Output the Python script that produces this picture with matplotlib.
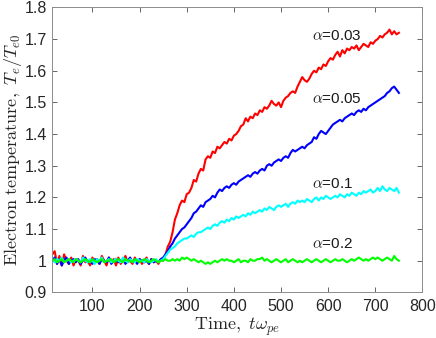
import numpy as np
import matplotlib
matplotlib.use("Agg")
import matplotlib.pyplot as plt

plt.rcParams['mathtext.fontset'] = 'cm'
plt.rcParams['font.family'] = ['Liberation Sans', 'DejaVu Sans']

# time samples, every 5 units from 15 to 750
t = np.arange(15, 755, 5)

red = [1.02, 1.03, 0.99, 1.015, 0.985, 1.02, 1.0, 0.99, 1.01, 0.985,
       1.005, 1.0, 0.985, 1.015, 0.995, 1.0, 0.985, 1.01, 0.995, 1.005,
       0.99, 1.015, 1.0, 0.985, 1.01, 0.995, 1.005, 0.985, 1.01, 0.99,
       1.0, 1.015, 0.995, 1.0, 0.99, 1.01, 0.995, 1.005, 0.99, 1.0,
       1.01, 0.99, 1.005, 0.995, 1.0, 0.99, 1.005, 1.0,
       1.02, 1.045, 1.06, 1.09, 1.13, 1.15, 1.175, 1.19, 1.185, 1.21,
       1.215, 1.23, 1.255, 1.25, 1.275, 1.29, 1.285, 1.32, 1.33, 1.325,
       1.345, 1.34, 1.36, 1.355, 1.365, 1.375, 1.37, 1.385, 1.38, 1.395,
       1.40, 1.41, 1.425, 1.43, 1.45, 1.44, 1.455, 1.45, 1.465, 1.46,
       1.475, 1.47, 1.485, 1.48, 1.49, 1.505, 1.495, 1.49, 1.50, 1.485,
       1.505, 1.515, 1.52, 1.53, 1.535, 1.53, 1.55, 1.565, 1.58, 1.57,
       1.565, 1.575, 1.59, 1.60, 1.595, 1.61, 1.605, 1.62, 1.615, 1.63,
       1.64, 1.635, 1.65, 1.66, 1.645, 1.665, 1.655, 1.67, 1.665, 1.675,
       1.67, 1.68, 1.665, 1.675, 1.685, 1.68, 1.675, 1.69, 1.685, 1.695,
       1.70, 1.71, 1.705, 1.715, 1.72, 1.73, 1.715, 1.725, 1.715, 1.72]

blue = [1.0, 1.01, 0.99, 1.005, 0.985, 1.0, 1.01, 0.99, 1.0, 1.005,
        0.995, 1.005, 0.99, 1.0, 1.01, 0.995, 1.0, 0.99, 1.005, 1.0,
        0.99, 1.005, 1.0, 0.995, 1.01, 0.99, 1.0, 1.005, 0.995, 1.0,
        1.005, 0.99, 1.0, 1.01, 0.995, 1.0, 0.99, 1.005, 1.0, 0.995,
        1.0, 0.99, 1.005, 0.995, 1.0, 0.995, 1.005, 1.01,
        1.02, 1.03, 1.045, 1.055, 1.07, 1.08, 1.09, 1.10, 1.105, 1.115,
        1.125, 1.135, 1.15, 1.155, 1.165, 1.175, 1.17, 1.185, 1.19, 1.195,
        1.205, 1.20, 1.215, 1.225, 1.22, 1.23, 1.235, 1.23, 1.24, 1.245,
        1.24, 1.25, 1.255, 1.26, 1.265, 1.27, 1.265, 1.275, 1.28, 1.275,
        1.285, 1.29, 1.285, 1.30, 1.305, 1.30, 1.31, 1.315, 1.32, 1.315,
        1.325, 1.33, 1.325, 1.34, 1.35, 1.345, 1.35, 1.355, 1.36, 1.355,
        1.365, 1.37, 1.375, 1.39, 1.385, 1.40, 1.41, 1.405, 1.40, 1.41,
        1.42, 1.43, 1.435, 1.44, 1.445, 1.44, 1.45, 1.455, 1.46, 1.465,
        1.46, 1.47, 1.475, 1.47, 1.48, 1.475, 1.485, 1.49, 1.495, 1.50,
        1.505, 1.51, 1.515, 1.52, 1.53, 1.535, 1.545, 1.55, 1.54, 1.53]

cyan = [1.0, 0.995, 1.005, 1.0, 1.01, 0.995, 1.0, 1.005, 0.995, 1.0,
        1.005, 1.0, 0.995, 1.01, 1.0, 0.995, 1.005, 1.0, 0.99, 1.005,
        1.0, 1.01, 0.995, 1.0, 1.005, 0.995, 1.0, 1.005, 1.0, 0.995,
        1.01, 1.0, 0.995, 1.005, 1.0, 0.995, 1.005, 1.0, 1.0, 0.995,
        1.005, 1.0, 0.995, 1.0, 1.005, 0.995, 1.0, 1.005,
        1.015, 1.025, 1.035, 1.04, 1.045, 1.055, 1.06, 1.065, 1.07, 1.07,
        1.075, 1.08, 1.075, 1.085, 1.09, 1.09, 1.095, 1.10, 1.105, 1.10,
        1.11, 1.115, 1.11, 1.12, 1.125, 1.12, 1.13, 1.125, 1.135, 1.13,
        1.14, 1.135, 1.14, 1.145, 1.14, 1.15, 1.145, 1.155, 1.15, 1.155,
        1.16, 1.155, 1.165, 1.16, 1.17, 1.165, 1.16, 1.17, 1.175, 1.17,
        1.175, 1.18, 1.17, 1.18, 1.185, 1.18, 1.19, 1.185, 1.19, 1.185,
        1.195, 1.19, 1.185, 1.195, 1.20, 1.19, 1.20, 1.195, 1.205, 1.20,
        1.195, 1.20, 1.205, 1.20, 1.21, 1.205, 1.20, 1.21, 1.205, 1.215,
        1.21, 1.205, 1.215, 1.21, 1.22, 1.215, 1.22, 1.225, 1.215, 1.22,
        1.23, 1.22, 1.235, 1.225, 1.22, 1.23, 1.225, 1.22, 1.23, 1.215]

green = [1.0, 1.005, 0.995, 1.0, 1.005, 0.995, 1.0, 1.005, 1.0, 0.995,
         1.005, 1.0, 0.995, 1.0, 1.005, 1.0, 0.995, 1.005, 1.0, 0.995,
         1.0, 1.005, 0.995, 1.0, 1.0, 1.005, 0.995, 1.0, 1.005, 1.0,
         0.995, 1.005, 1.0, 1.0, 0.995, 1.005, 1.0, 0.995, 1.0, 1.005,
         1.0, 0.995, 1.0, 1.005, 1.0, 0.995, 1.0, 1.0,
         1.005, 1.0, 1.0, 1.005, 1.0, 1.005, 1.0, 1.01, 1.005, 1.01,
         1.005, 1.0, 1.005, 1.0, 0.995, 1.0, 0.995, 0.99, 0.995, 0.99,
         0.995, 1.0, 0.995, 1.0, 1.005, 1.0, 1.005, 1.0, 1.0, 0.995,
         1.0, 1.005, 0.995, 1.0, 1.0, 0.995, 1.005, 1.0, 1.0, 1.005,
         1.005, 1.01, 1.0, 1.005, 1.0, 0.995, 1.0, 1.005, 1.0, 0.995,
         1.0, 1.005, 0.995, 1.0, 1.005, 1.0, 0.995, 1.0, 0.995, 1.0,
         1.005, 1.0, 0.995, 1.0, 1.005, 1.0, 0.995, 1.0, 1.005, 1.0,
         0.995, 1.0, 1.005, 1.0, 1.0, 1.005, 1.0, 0.995, 1.0, 1.005,
         1.0, 1.005, 1.01, 1.005, 1.0, 1.005, 1.0, 1.005, 1.01, 1.005,
         1.01, 1.005, 1.0, 1.005, 1.01, 1.005, 1.0, 1.015, 1.005, 1.0]

series = [red, blue, cyan, green]
colors = ['#ff0000', '#0000ff', '#00ffff', '#00ff00']
labels = [r'$\alpha$=0.03', r'$\alpha$=0.05', r'$\alpha$=0.1', r'$\alpha$=0.2']
label_y = [1.71, 1.51, 1.243, 1.053]
label_x = 565

fig = plt.figure(figsize=(4.36, 3.38), dpi=100)
ax = fig.add_axes([0.120, 0.135, 0.849, 0.843])

for s, c in zip(series, colors):
    ax.plot(t, s, color=c, lw=1.5)

for lab, ly in zip(labels, label_y):
    ax.text(label_x, ly, lab, fontsize=11, color='0.1', va='center', ha='left')

ax.set_xlim(15, 800)
ax.set_ylim(0.9, 1.8)
ax.set_xticks(np.arange(100, 801, 100))
ax.set_yticks(np.arange(0.9, 1.81, 0.1))
ax.set_yticklabels(['0.9', '1', '1.1', '1.2', '1.3', '1.4', '1.5', '1.6', '1.7', '1.8'])

axcol = '0.15'
for sp in ax.spines.values():
    sp.set_color('0.55')
    sp.set_linewidth(0.7)
ax.tick_params(direction='in', top=True, right=True, length=3.5, width=0.7,
               color='0.4', labelcolor=axcol, labelsize=11.5)
ax.tick_params(axis='x', pad=5)
ax.tick_params(axis='y', pad=4)

ax.set_xlabel(r'$\mathrm{Time,}\ t\omega_{pe}$', fontsize=13, color=axcol, labelpad=1)
ax.set_ylabel(r'$\mathrm{Electron\ temperature,}\ T_e/T_{e0}$', fontsize=13, color=axcol, labelpad=0)

fig.savefig('out.png', dpi=100)
